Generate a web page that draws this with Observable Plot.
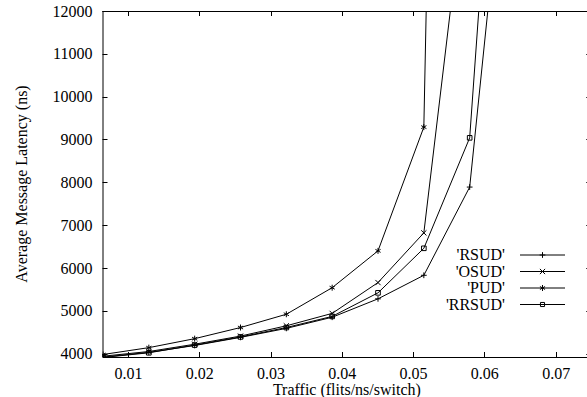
<!DOCTYPE html>
<html><head><meta charset="utf-8">
<script src="https://cdn.jsdelivr.net/npm/d3@7"></script>
<script src="https://cdn.jsdelivr.net/npm/@observablehq/plot@0.6"></script>
<style>
html,body{margin:0;padding:0;background:#fff;overflow:hidden}
</style></head><body><div id="chart"></div>
<script>
const traffic = [0.00643, 0.01286, 0.01929, 0.02572, 0.03215, 0.03858, 0.04501, 0.05144, 0.05787, 0.0643];
const rsud  = [3930, 4040, 4200, 4390, 4600, 4860, 5290, 5840, 7900, 18300];
const osud  = [3950, 4060, 4230, 4420, 4660, 4950, 5670, 6830, 15800];
const pud   = [3990, 4150, 4360, 4620, 4930, 5550, 6410, 9300, 62000];
const rrsud = [3920, 4030, 4210, 4400, 4620, 4880, 5430, 6470, 9050, 24000];
const seriesNames = ["'RSUD'", "'OSUD'", "'PUD'", "'RRSUD'"];
const seriesSymbols = ["plus", "times", "asterisk", "square"];
const xTicks = [0.01, 0.02, 0.03, 0.04, 0.05, 0.06, 0.07];
const yTicks = [4000, 5000, 6000, 7000, 8000, 9000, 10000, 11000, 12000];
const xDomain = [0.00643, 0.0744];
const xFrameEnd = 0.075;
const yDomain = [3920, 12000];
const xLabel = "Traffic (flits/ns/switch)";
const yLabel = "Average Message Latency (ns)";

const seriesValues = [rsud, osud, pud, rrsud];
const rows = [];
seriesValues.forEach((vals, s) => vals.forEach((v, i) => rows.push({series: seriesNames[s], x: traffic[i], y: v})));

const symbolR = {"plus": 2.0, "times": 2.5, "asterisk": 2.8, "square": 2.6};

const W = 587, H = 397;
const font = "'Liberation Serif', 'DejaVu Serif', serif";
const plot = Plot.plot({
  width: W, height: H,
  marginLeft: 102.5, marginRight: 0, marginTop: 11, marginBottom: 40,
  style: {fontFamily: font, fontSize: "16px", background: "#fff", color: "#000"},
  x: {domain: xDomain},
  y: {domain: yDomain},
  marks: [
    Plot.axisX({ticks: xTicks, tickSize: 0, tickPadding: 10.5, label: null, tickFormat: d => String(d), fontVariant: "normal"}),
    Plot.axisY({ticks: yTicks, tickSize: 0, tickPadding: 10.5, label: null, tickFormat: d => String(d), fontVariant: "normal"}),
    Plot.ruleY([yDomain[0], yDomain[1]], {stroke: "#000", strokeWidth: 1}),
    Plot.ruleX([xDomain[0]], {stroke: "#000", strokeWidth: 1}),
    Plot.line(rows, {x: "x", y: "y", z: "series", stroke: "#000", strokeWidth: 1, clip: true}),
    ...seriesNames.map((name, s) => Plot.dot(rows.filter(d => d.series === name), {
      x: "x", y: "y", symbol: () => seriesSymbols[s], r: symbolR[seriesSymbols[s]],
      stroke: "#000", fill: "none", strokeWidth: 1, clip: true
    }))
  ]
});
document.getElementById("chart").appendChild(plot);

const svg = d3.select(plot);
const xs = plot.scale("x"), ys = plot.scale("y");
const pLeft = xs.apply(xDomain[0]), pRight = xs.apply(xFrameEnd);
const pTop = ys.apply(yDomain[1]), pBottom = ys.apply(yDomain[0]);
const tk = 5;
const g = svg.append("g").attr("stroke", "#000").attr("stroke-width", 1);
xTicks.forEach(t => {
  const x = Math.round(xs.apply(t)) + 0.5;
  g.append("line").attr("x1", x).attr("x2", x).attr("y1", pBottom).attr("y2", pBottom - tk);
  g.append("line").attr("x1", x).attr("x2", x).attr("y1", pTop).attr("y2", pTop + tk);
});
yTicks.forEach(t => {
  const y = Math.round(ys.apply(t)) + 0.5;
  g.append("line").attr("x1", pLeft).attr("x2", pLeft + tk).attr("y1", y).attr("y2", y);
  g.append("line").attr("x1", pRight).attr("x2", pRight - tk).attr("y1", y).attr("y2", y);
});

svg.append("text").attr("transform", `translate(21,${(pTop + pBottom) / 2}) rotate(-90)`)
  .attr("text-anchor", "middle").attr("dy", "0.35em").attr("font-family", font).attr("font-size", 16)
  .attr("fill", "#000").text(yLabel);
svg.append("text").attr("x", (pLeft + pRight) / 2).attr("y", 389.5)
  .attr("text-anchor", "middle").attr("dy", "0.35em").attr("font-family", font).attr("font-size", 16)
  .attr("fill", "#000").text(xLabel);

const d3sym = {"plus": d3.symbolPlus, "times": d3.symbolTimes, "asterisk": d3.symbolAsterisk, "square": d3.symbolSquare2};
const lg = svg.append("g").attr("font-family", font).attr("font-size", 16);
seriesNames.forEach((name, i) => {
  const y = 255 + i * 16.5;
  lg.append("text").attr("x", 505).attr("y", y).attr("dy", "0.32em").attr("text-anchor", "end").attr("fill", "#000").text(name);
  lg.append("line").attr("x1", 520).attr("x2", 565).attr("y1", y).attr("y2", y).attr("stroke", "#000");
  const r = symbolR[seriesSymbols[i]];
  lg.append("path").attr("transform", `translate(542.5,${y})`)
    .attr("d", d3.symbol(d3sym[seriesSymbols[i]], Math.PI * r * r)())
    .attr("fill", "none").attr("stroke", "#000");
});
</script></body></html>
